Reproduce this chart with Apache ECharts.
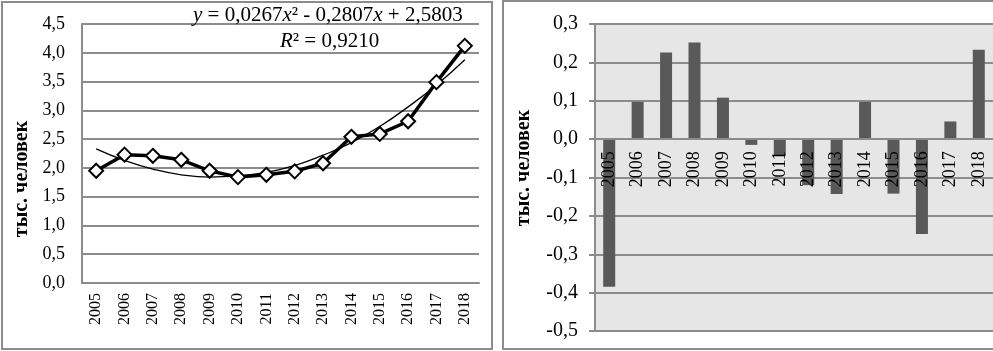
<!DOCTYPE html>
<html>
<head>
<meta charset="utf-8">
<script src="https://cdn.jsdelivr.net/npm/echarts@6/dist/echarts.min.js"></script>
<style>
html,body{margin:0;padding:0;background:#fff;}
#c{width:993px;height:351px;}
</style>
</head>
<body>
<div id="c"></div>
<script>
const years = ['2005','2006','2007','2008','2009','2010','2011','2012','2013','2014','2015','2016','2017','2018'];
const actual = [1.95, 2.23, 2.21, 2.14, 1.95, 1.84, 1.88, 1.94, 2.08, 2.54, 2.59, 2.81, 3.49, 4.12];
const trend = [2.33, 2.13, 1.98, 1.88, 1.84, 1.86, 1.92, 2.04, 2.22, 2.44, 2.72, 3.06, 3.44, 3.88];
const residuals = [-0.385, 0.097, 0.226, 0.252, 0.108, -0.015, -0.044, -0.12, -0.143, 0.097, -0.142, -0.247, 0.046, 0.233];
const yName = 'тыс. человек';
const equation = '{i|y} = 0,0267{i|x}² - 0,2807{i|x} + 2,5803';
const rSquared = '{i|R}² = 0,9210';

const serif = '"Liberation Serif", "Times New Roman", serif';
const fmt = v => (Math.round(v * 10) / 10).toFixed(1).replace('.', ',');
const gridGray = '#8c8c8c';

const chart = echarts.init(document.getElementById('c'));
const rightGrid = {left: 595, top: 24, width: 398, height: 307};
const rMin = -0.5, rMax = 0.3;
// distance from plot bottom up to the zero line, so the category labels sit under zero
const zeroOffset = -rightGrid.height * (0 - rMin) / (rMax - rMin);

chart.setOption({
  animation: false,
  backgroundColor: '#fff',
  grid: [
    {left: 82, top: 24, width: 397, height: 259},
    Object.assign({show: true, backgroundColor: '#e6e6e6', borderWidth: 0}, rightGrid)
  ],
  xAxis: [
    {
      type: 'category', gridIndex: 0, data: years, boundaryGap: true,
      axisLine: {show: true, lineStyle: {color: gridGray, width: 2}},
      axisTick: {show: false},
      axisLabel: {rotate: 90, margin: 10, color: '#000', fontFamily: serif, fontSize: 16}
    },
    {
      type: 'category', gridIndex: 1, data: years, boundaryGap: true, z: 5,
      position: 'bottom', offset: zeroOffset,
      axisLine: {show: true, onZero: false, lineStyle: {color: gridGray, width: 2}},
      axisTick: {show: false},
      axisLabel: {rotate: 90, margin: 12, color: '#000', fontFamily: serif, fontSize: 18}
    }
  ],
  yAxis: [
    {
      type: 'value', gridIndex: 0, min: 0, max: 4.5, interval: 0.5,
      axisLine: {show: true, lineStyle: {color: gridGray, width: 2}},
      axisTick: {show: false},
      splitLine: {show: true, lineStyle: {color: gridGray, width: 2}},
      axisLabel: {formatter: fmt, margin: 17, color: '#000', fontFamily: serif, fontSize: 18}
    },
    {
      type: 'value', gridIndex: 1, min: rMin, max: rMax, interval: 0.1,
      axisLine: {show: true, lineStyle: {color: gridGray, width: 2}},
      axisTick: {show: true, length: 6, lineStyle: {color: gridGray, width: 2}},
      splitLine: {show: true, lineStyle: {color: gridGray, width: 2}},
      axisLabel: {formatter: fmt, margin: 17, color: '#000', fontFamily: serif, fontSize: 20}
    }
  ],
  series: [
    {
      type: 'line', xAxisIndex: 0, yAxisIndex: 0, data: trend, smooth: true,
      symbol: 'none', z: 2,
      lineStyle: {color: '#000', width: 1.3}
    },
    {
      type: 'line', xAxisIndex: 0, yAxisIndex: 0, data: actual,
      symbol: 'diamond', symbolSize: 14, z: 3,
      lineStyle: {color: '#000', width: 3.5},
      itemStyle: {color: '#fff', borderColor: '#000', borderWidth: 2}
    },
    {
      type: 'bar', xAxisIndex: 1, yAxisIndex: 1, data: residuals,
      barWidth: 12, z: 2,
      itemStyle: {color: '#595959'}
    }
  ],
  graphic: [
    {type: 'rect', z: 100, shape: {x: 2, y: 2, width: 490, height: 347}, style: {fill: 'none', stroke: '#8c8c8c', lineWidth: 2}},
    {type: 'rect', z: 100, shape: {x: 503, y: 1, width: 500, height: 348}, style: {fill: 'none', stroke: '#8c8c8c', lineWidth: 2}},
    {type: 'text', z: 100, x: 22, y: 179, rotation: Math.PI / 2,
      style: {text: yName, font: 'bold 20px ' + serif, fill: '#000', textAlign: 'center', textVerticalAlign: 'middle'}},
    {type: 'text', z: 100, x: 524, y: 168, rotation: Math.PI / 2,
      style: {text: yName, font: 'bold 20px ' + serif, fill: '#000', textAlign: 'center', textVerticalAlign: 'middle'}},
    {type: 'text', z: 100, x: 193, y: 15,
      style: {text: equation, font: '21px ' + serif, fill: '#000', textAlign: 'left', textVerticalAlign: 'middle',
        rich: {i: {fontStyle: 'italic', fontFamily: serif, fontSize: 21}}}},
    {type: 'text', z: 100, x: 280, y: 41,
      style: {text: rSquared, font: '21px ' + serif, fill: '#000', textAlign: 'left', textVerticalAlign: 'middle',
        rich: {i: {fontStyle: 'italic', fontFamily: serif, fontSize: 21}}}}
  ]
});
</script>
</body>
</html>
